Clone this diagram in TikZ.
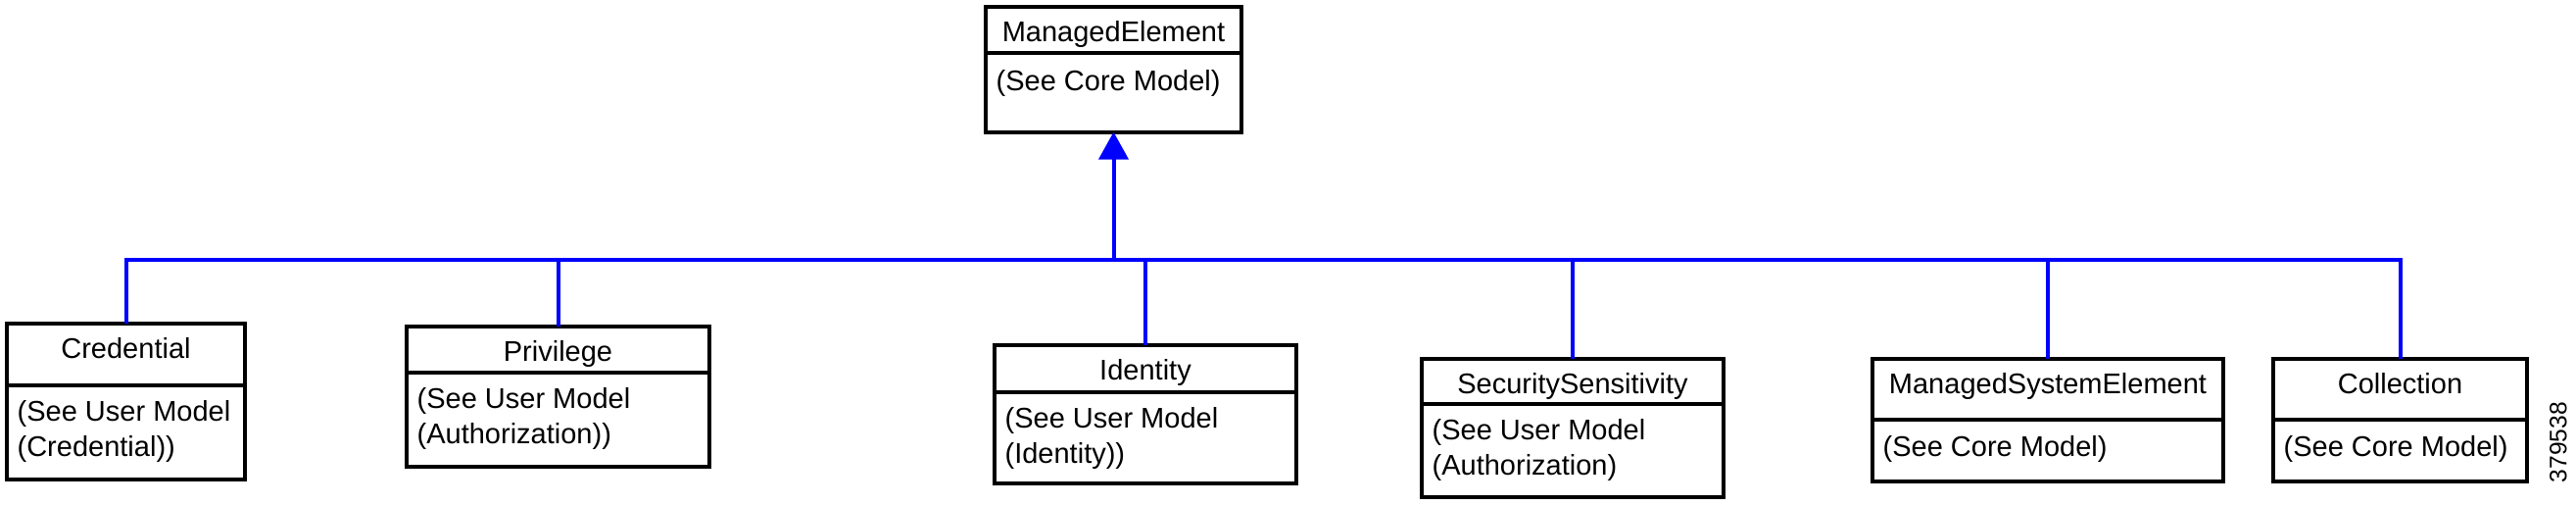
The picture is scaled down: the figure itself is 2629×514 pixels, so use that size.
\documentclass[tikz,border=0pt]{standalone}
\usepackage{fontspec}
\setmainfont{Liberation Sans}
\usepackage{tikz}
\usetikzlibrary{arrows.meta, positioning}

\definecolor{linkblue}{RGB}{0,0,255}

\tikzset{
  classbox/.style={draw, line width=0.04cm, outer sep=0pt, inner sep=0pt},
  classname/.style={anchor=base, inner sep=0pt, font=\fontsize{8.25}{10}\selectfont},
  classnote/.style={anchor=base west, align=left, inner sep=0pt, font=\fontsize{8.25}{10}\selectfont},
  inherit/.style={draw=linkblue, line width=0.04cm},
}

\begin{document}
\begin{tikzpicture}[x=0.01cm, y=-0.01cm]
  \useasboundingbox (0,0) rectangle (2629,514);
  % superclass
  \node[classbox, minimum width=2.61cm, minimum height=0.47cm, anchor=north] (me) at (1136.5,7) {};
  \node[classbox, minimum width=2.61cm, minimum height=0.805cm, below=0pt of me] (me-b) {};
  \node[classname] (me-t) at ([yshift=-0.35cm]me.north) {ManagedElement};
  \node[classnote] (me-n) at ([xshift=0.1cm,yshift=-0.38cm]me-b.north west) {(See Core Model)};
  % subclasses (two-line notes sit on their last line)
  \node[classbox, minimum width=2.43cm, minimum height=0.63cm, anchor=north] (cred) at (128.5,330) {};
  \node[classbox, minimum width=2.43cm, minimum height=0.96cm, below=0pt of cred] (cred-b) {};
  \node[classname] (cred-t) at ([yshift=-0.35cm]cred.north) {Credential};
  \node[classnote] (cred-n) at ([xshift=0.1cm,yshift=-0.72cm]cred-b.north west) {(See User Model\\(Credential))};

  \node[classbox, minimum width=3.09cm, minimum height=0.47cm, anchor=north] (priv) at (569.5,333) {};
  \node[classbox, minimum width=3.09cm, minimum height=0.96cm, below=0pt of priv] (priv-b) {};
  \node[classname] (priv-t) at ([yshift=-0.35cm]priv.north) {Privilege};
  \node[classnote] (priv-n) at ([xshift=0.1cm,yshift=-0.72cm]priv-b.north west) {(See User Model\\(Authorization))};

  \node[classbox, minimum width=3.08cm, minimum height=0.48cm, anchor=north] (ident) at (1169,352) {};
  \node[classbox, minimum width=3.08cm, minimum height=0.93cm, below=0pt of ident] (ident-b) {};
  \node[classname] (ident-t) at ([yshift=-0.35cm]ident.north) {Identity};
  \node[classnote] (ident-n) at ([xshift=0.1cm,yshift=-0.72cm]ident-b.north west) {(See User Model\\(Identity))};

  \node[classbox, minimum width=3.08cm, minimum height=0.46cm, anchor=north] (secs) at (1605,366) {};
  \node[classbox, minimum width=3.08cm, minimum height=0.95cm, below=0pt of secs] (secs-b) {};
  \node[classname] (secs-t) at ([yshift=-0.35cm]secs.north) {SecuritySensitivity};
  \node[classnote] (secs-n) at ([xshift=0.1cm,yshift=-0.72cm]secs-b.north west) {(See User Model\\(Authorization)};

  \node[classbox, minimum width=3.58cm, minimum height=0.62cm, anchor=north] (mse) at (2090,366) {};
  \node[classbox, minimum width=3.58cm, minimum height=0.63cm, below=0pt of mse] (mse-b) {};
  \node[classname] (mse-t) at ([yshift=-0.35cm]mse.north) {ManagedSystemElement};
  \node[classnote] (mse-n) at ([xshift=0.1cm,yshift=-0.37cm]mse-b.north west) {(See Core Model)};

  \node[classbox, minimum width=2.59cm, minimum height=0.62cm, anchor=north] (coll) at (2449.5,366) {};
  \node[classbox, minimum width=2.59cm, minimum height=0.63cm, below=0pt of coll] (coll-b) {};
  \node[classname] (coll-t) at ([yshift=-0.35cm]coll.north) {Collection};
  \node[classnote] (coll-n) at ([xshift=0.1cm,yshift=-0.37cm]coll-b.north west) {(See Core Model)};
  % inheritance lines
  \coordinate (bus) at (0,265);
  \draw[inherit] (cred.north) -- (cred.north |- bus) -- (coll.north |- bus) -- (coll.north);
  \foreach \c in {priv, ident, secs, mse}
    \draw[inherit] (\c.north) -- (\c.north |- bus);
  \draw[inherit, -{Triangle[length=0.28cm, width=0.30cm]}] (me-b.south |- bus) -- (me-b.south);
  % figure number
  \node[rotate=90, inner sep=0pt, font=\fontsize{7}{8}\selectfont] (figno) at (2611,451) {379538};
\end{tikzpicture}
\end{document}
